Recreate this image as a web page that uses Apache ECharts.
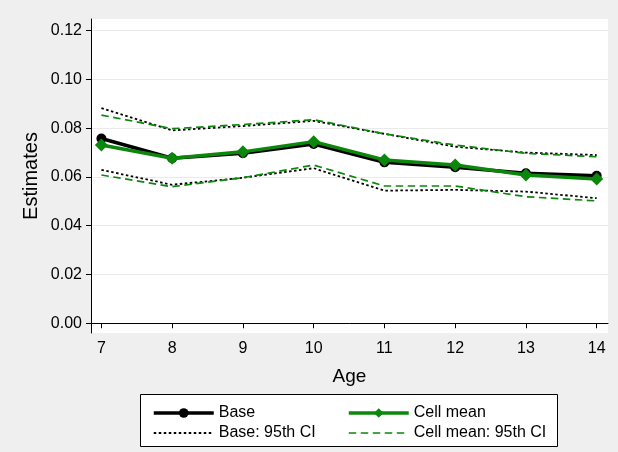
<!DOCTYPE html>
<html>
<head>
<meta charset="utf-8">
<script src="https://cdn.jsdelivr.net/npm/echarts@6/dist/echarts.min.js"></script>
<style>
  html, body { margin: 0; padding: 0; background: #efefef; }
  #chart { width: 618px; height: 452px; }
</style>
</head>
<body>
<div id="chart"></div>
<script>
// Estimates by age: base model vs. cell-mean model, with 95% confidence bands
const ages = [7, 8, 9, 10, 11, 12, 13, 14];
const baseEst = [0.0758, 0.0677, 0.0697, 0.0735, 0.0660, 0.0640, 0.0615, 0.0605];
const cellEst = [0.0731, 0.0677, 0.0703, 0.0745, 0.0670, 0.0649, 0.0608, 0.0592];
const baseUpper = [0.0882, 0.0791, 0.0809, 0.0830, 0.0777, 0.0724, 0.0700, 0.0690];
const baseLower = [0.0629, 0.0568, 0.0597, 0.0636, 0.0544, 0.0547, 0.0540, 0.0513];
const cellUpper = [0.0854, 0.0798, 0.0815, 0.0835, 0.0777, 0.0731, 0.0697, 0.0683];
const cellLower = [0.0608, 0.0560, 0.0597, 0.0649, 0.0563, 0.0563, 0.0519, 0.0502];
const yTicks = [0, 0.02, 0.04, 0.06, 0.08, 0.10, 0.12];

const pairs = vals => ages.map((a, i) => [a, vals[i]]);

const FONT = '"Liberation Sans", Arial, sans-serif';
const GREEN = '#0b870b';

const chart = echarts.init(document.getElementById('chart'), null, { renderer: 'canvas' });

const dotted = { color: '#000', width: 1.8, type: [2.5, 2.5] };
const dashed = { color: GREEN, width: 1.7, type: [7.5, 4.5] };

// legend entries: solid estimate lines carry a marker, CI lines show only the stroke
const noMarker = { color: 'rgba(0,0,0,0)', borderWidth: 0 };
const legendCommon = {
  orient: 'vertical', top: 400,
  itemWidth: 60, itemHeight: 12, itemGap: 4,
  textStyle: { fontFamily: FONT, fontSize: 16, color: '#000' }
};

chart.setOption({
  backgroundColor: '#efefef',
  animation: false,
  grid: {
    left: 91, top: 19, right: 10, bottom: 119,
    show: true, backgroundColor: '#ffffff', borderWidth: 0
  },
  xAxis: {
    type: 'value',
    min: 6.853, max: 14.16,
    name: 'Age', nameLocation: 'middle', nameGap: 34,
    nameTextStyle: { fontFamily: FONT, fontSize: 19, color: '#000' },
    axisLine: { show: true, lineStyle: { color: '#000', width: 1 } },
    axisTick: { show: true, length: 5, lineStyle: { color: '#000' }, customValues: ages },
    axisLabel: { fontFamily: FONT, fontSize: 16, color: '#000', margin: 8, customValues: ages },
    splitLine: { show: false }
  },
  yAxis: {
    type: 'value',
    min: -0.004, max: 0.1248,
    name: 'Estimates', nameLocation: 'middle', nameGap: 50, nameRotate: 90,
    nameMoveOverlap: false,
    nameTextStyle: { fontFamily: FONT, fontSize: 20, color: '#000' },
    axisLine: { show: true, lineStyle: { color: '#000', width: 1 } },
    axisTick: { show: true, length: 5, lineStyle: { color: '#000' }, customValues: yTicks },
    axisLabel: {
      fontFamily: FONT, fontSize: 16, color: '#000', margin: 9,
      customValues: yTicks,
      formatter: v => v.toFixed(2)
    },
    splitLine: {
      show: true,
      lineStyle: {
        color: ['#b8b8b8', '#eaeaea', '#eaeaea', '#eaeaea', '#eaeaea', '#eaeaea', '#eaeaea'],
        width: 1.2
      }
    }
  },
  legend: [
    Object.assign({}, legendCommon, {
      left: 147,
      data: [
        { name: 'Base', lineStyle: { width: 3.5 } },
        { name: 'Base: 95th CI', lineStyle: { width: 1.8 }, itemStyle: noMarker }
      ]
    }),
    Object.assign({}, legendCommon, {
      left: 342,
      data: [
        { name: 'Cell mean', lineStyle: { width: 3.5 } },
        { name: 'Cell mean: 95th CI', lineStyle: { width: 1.7 }, itemStyle: noMarker }
      ]
    })
  ],
  graphic: [
    {
      type: 'rect', z: -1, silent: true,
      shape: { x: 140.5, y: 394.5, width: 417, height: 52 },
      style: { fill: '#ffffff', stroke: '#000', lineWidth: 1 }
    }
  ],
  series: [
    {
      name: 'Base', type: 'line', data: pairs(baseEst),
      symbol: 'circle', symbolSize: 10, z: 3,
      itemStyle: { color: '#000' },
      lineStyle: { color: '#000', width: 3.5 }
    },
    {
      name: 'Cell mean', type: 'line', data: pairs(cellEst),
      symbol: 'diamond', symbolSize: 13, z: 4,
      itemStyle: { color: GREEN },
      lineStyle: { color: GREEN, width: 3.5 }
    },
    {
      name: 'Base: 95th CI', type: 'line', data: pairs(baseUpper),
      symbol: 'none', itemStyle: { color: '#000' }, lineStyle: dotted
    },
    {
      name: 'Base: 95th CI', type: 'line', data: pairs(baseLower),
      symbol: 'none', itemStyle: { color: '#000' }, lineStyle: dotted
    },
    {
      name: 'Cell mean: 95th CI', type: 'line', data: pairs(cellUpper),
      symbol: 'none', itemStyle: { color: GREEN }, lineStyle: dashed
    },
    {
      name: 'Cell mean: 95th CI', type: 'line', data: pairs(cellLower),
      symbol: 'none', itemStyle: { color: GREEN }, lineStyle: dashed
    }
  ]
});
</script>
</body>
</html>
